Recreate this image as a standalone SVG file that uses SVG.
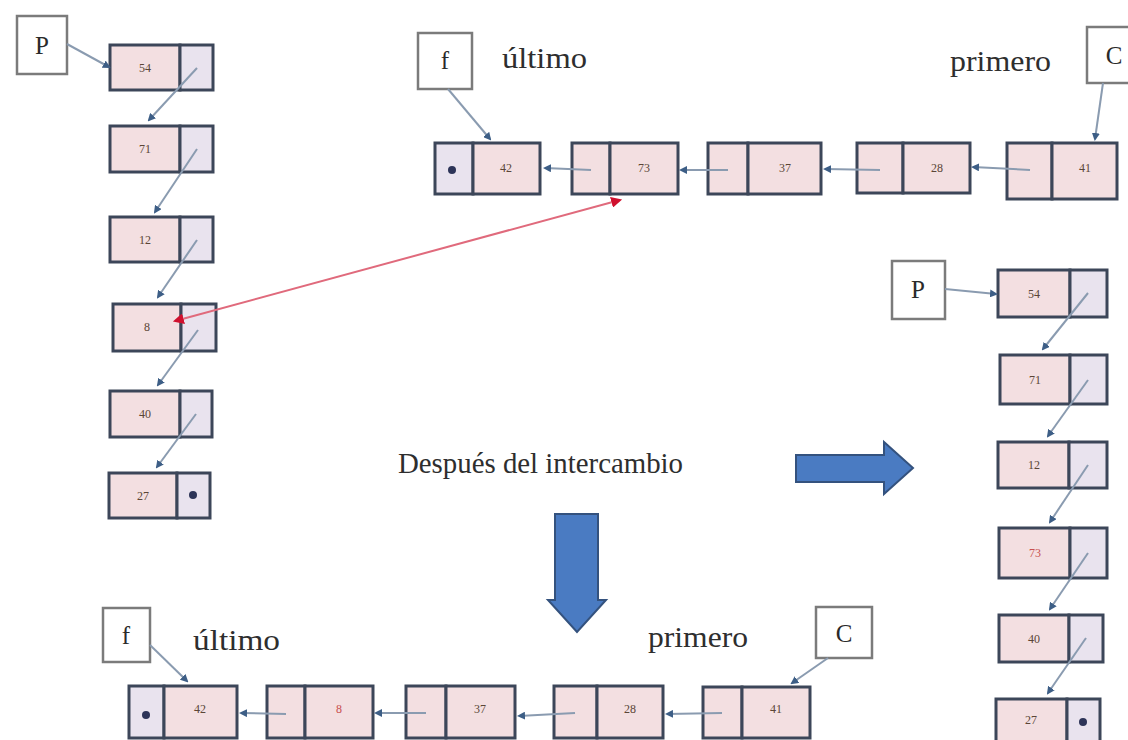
<svg xmlns="http://www.w3.org/2000/svg" width="1128" height="740" viewBox="0 0 1128 740">
<style>
.box{fill:#fff;stroke:#7b7b7b;stroke-width:2.5}
.big{font-family:"Liberation Serif",serif;font-size:25px;fill:#2a2a2a}
.word{font-family:"Liberation Serif",serif;font-size:30px;fill:#2e2e2e}
.cell{fill:#f3dfe1;stroke:#3c4659;stroke-width:3}
.ptr{fill:#e9e3ee;stroke:#3c4659;stroke-width:3}
.num{font-family:"Liberation Serif",serif;font-size:12px;fill:#5a4636;text-anchor:middle}
.red{fill:#c8504f}
.nil{fill:#2d3458}
.con{stroke:#8a9bb0;stroke-width:2;fill:none;marker-end:url(#m)}
.rcon{stroke:#e06a7c;stroke-width:2;fill:none;marker-end:url(#mr);marker-start:url(#mr2)}
.blk{fill:#4a7bc2;stroke:#34527e;stroke-width:2}
</style>
<defs>
<marker id="m" viewBox="0 0 8 8" refX="6" refY="4" markerWidth="8" markerHeight="8" markerUnits="userSpaceOnUse" orient="auto">
<path d="M0,0 L8,4 L0,8 Z" fill="#3d5e86"/>
</marker>
<marker id="mr" viewBox="0 0 10 10" refX="8" refY="5" markerWidth="11" markerHeight="11" markerUnits="userSpaceOnUse" orient="auto">
<path d="M0,0 L10,5 L0,10 Z" fill="#d0102e"/>
</marker>
<marker id="mr2" viewBox="0 0 10 10" refX="2" refY="5" markerWidth="11" markerHeight="11" markerUnits="userSpaceOnUse" orient="auto">
<path d="M10,0 L0,5 L10,10 Z" fill="#d0102e"/>
</marker>
</defs>
<rect width="1128" height="740" fill="#fff"/>

<!-- Left column (before) -->
<g id="pL"><rect class="box" x="17" y="16" width="50" height="58"/><text class="big" x="42" y="54" text-anchor="middle">P</text></g>
<g id="L54"><rect class="cell" x="110" y="45" width="70" height="45"/><rect class="ptr" x="180" y="45" width="33" height="45"/><text class="num" x="145" y="72">54</text></g>
<g id="L71"><rect class="cell" x="110" y="126" width="70" height="46"/><rect class="ptr" x="180" y="126" width="33" height="46"/><text class="num" x="145" y="153">71</text></g>
<g id="L12"><rect class="cell" x="110" y="217" width="70" height="45"/><rect class="ptr" x="180" y="217" width="33" height="45"/><text class="num" x="145" y="244">12</text></g>
<g id="L8"><rect class="cell" x="113" y="304" width="68" height="47"/><rect class="ptr" x="181" y="304" width="35" height="47"/><text class="num" x="147" y="331">8</text></g>
<g id="L40"><rect class="cell" x="110" y="391" width="70" height="46"/><rect class="ptr" x="180" y="391" width="32" height="46"/><text class="num" x="145" y="418">40</text></g>
<g id="L27"><rect class="cell" x="109" y="473" width="68" height="45"/><rect class="ptr" x="177" y="473" width="33" height="45"/><text class="num" x="143" y="500">27</text><circle class="nil" cx="193" cy="495" r="4"/></g>

<!-- Top list (before) -->
<g id="fT"><rect class="box" x="418" y="33" width="54" height="56"/><text class="big" x="445" y="69" text-anchor="middle">f</text></g>
<text class="word" x="502" y="68" textLength="85" lengthAdjust="spacingAndGlyphs">último</text>
<text class="word" x="950" y="71" textLength="101" lengthAdjust="spacingAndGlyphs">primero</text>
<g id="cT"><rect class="box" x="1087" y="27" width="54" height="56"/><text class="big" x="1114" y="64" text-anchor="middle">C</text></g>
<g id="T42"><rect class="ptr" x="435" y="143" width="38" height="51"/><rect class="cell" x="473" y="143" width="67" height="51"/><circle class="nil" cx="452" cy="170" r="4"/><text class="num" x="506" y="172">42</text></g>
<g id="T73"><rect class="cell" x="572" y="143" width="38" height="51"/><rect class="cell" x="610" y="143" width="68" height="51"/><text class="num" x="644" y="172">73</text></g>
<g id="T37"><rect class="cell" x="708" y="143" width="40" height="51"/><rect class="cell" x="748" y="143" width="73" height="51"/><text class="num" x="785" y="172">37</text></g>
<g id="T28"><rect class="cell" x="857" y="143" width="46" height="50"/><rect class="cell" x="903" y="143" width="67" height="50"/><text class="num" x="937" y="172">28</text></g>
<g id="T41"><rect class="cell" x="1007" y="143" width="45" height="56"/><rect class="cell" x="1052" y="143" width="65" height="56"/><text class="num" x="1085" y="172">41</text></g>

<!-- Right column (after) -->
<g id="pR"><rect class="box" x="892" y="261" width="53" height="58"/><text class="big" x="918" y="298" text-anchor="middle">P</text></g>
<g id="R54"><rect class="cell" x="998" y="270" width="72" height="47"/><rect class="ptr" x="1070" y="270" width="37" height="47"/><text class="num" x="1034" y="298">54</text></g>
<g id="R71"><rect class="cell" x="1000" y="355" width="70" height="49"/><rect class="ptr" x="1070" y="355" width="37" height="49"/><text class="num" x="1035" y="384">71</text></g>
<g id="R12"><rect class="cell" x="998" y="442" width="71" height="46"/><rect class="ptr" x="1069" y="442" width="38" height="46"/><text class="num" x="1034" y="469">12</text></g>
<g id="R73"><rect class="cell" x="999" y="528" width="71" height="50"/><rect class="ptr" x="1070" y="528" width="37" height="50"/><text class="num red" x="1035" y="557">73</text></g>
<g id="R40"><rect class="cell" x="999" y="615" width="70" height="47"/><rect class="ptr" x="1069" y="615" width="34" height="47"/><text class="num" x="1034" y="643">40</text></g>
<g id="R27"><rect class="cell" x="996" y="699" width="71" height="46"/><rect class="ptr" x="1067" y="699" width="33" height="46"/><text class="num" x="1031" y="724">27</text><circle class="nil" cx="1083" cy="722" r="4"/></g>

<!-- Middle -->
<text class="word" x="398" y="473" textLength="285" lengthAdjust="spacingAndGlyphs">Después del intercambio</text>
<g id="arrowRight"><path class="blk" d="M796,455 L884,455 L884,442 L913,468 L884,494 L884,482 L796,482 Z"/></g>
<g id="arrowDown"><path class="blk" d="M555,514 L598,514 L598,600 L606,600 L577,632 L548,600 L555,600 Z"/></g>

<!-- Bottom list (after) -->
<g id="fB"><rect class="box" x="103" y="608" width="47" height="54"/><text class="big" x="126" y="644" text-anchor="middle">f</text></g>
<text class="word" x="193" y="650" textLength="87" lengthAdjust="spacingAndGlyphs">último</text>
<text class="word" x="648" y="647" textLength="100" lengthAdjust="spacingAndGlyphs">primero</text>
<g id="cB"><rect class="box" x="816" y="607" width="56" height="51"/><text class="big" x="844" y="642" text-anchor="middle">C</text></g>
<g id="B42"><rect class="ptr" x="129" y="686" width="35" height="52"/><rect class="cell" x="164" y="686" width="73" height="52"/><circle class="nil" cx="146" cy="715" r="4"/><text class="num" x="200" y="713">42</text></g>
<g id="B8"><rect class="cell" x="267" y="686" width="38" height="52"/><rect class="cell" x="305" y="686" width="68" height="52"/><text class="num red" x="339" y="713">8</text></g>
<g id="B37"><rect class="cell" x="406" y="686" width="40" height="52"/><rect class="cell" x="446" y="686" width="69" height="52"/><text class="num" x="480" y="713">37</text></g>
<g id="B28"><rect class="cell" x="554" y="686" width="43" height="52"/><rect class="cell" x="597" y="686" width="66" height="52"/><text class="num" x="630" y="713">28</text></g>
<g id="B41"><rect class="cell" x="703" y="687" width="39" height="51"/><rect class="cell" x="742" y="687" width="68" height="51"/><text class="num" x="776" y="713">41</text></g>

<g id="connectors">
<!-- left column -->
<line class="con" x1="67" y1="44" x2="109" y2="67"/>
<line class="con" x1="197" y1="68" x2="149" y2="120"/>
<line class="con" x1="197" y1="149" x2="155" y2="212"/>
<line class="con" x1="197" y1="240" x2="158" y2="297"/>
<line class="con" x1="198" y1="330" x2="158" y2="385"/>
<line class="con" x1="196" y1="414" x2="157" y2="467"/>
<!-- top list -->
<line class="con" x1="448" y1="89" x2="490" y2="139"/>
<line class="con" x1="1103" y1="83" x2="1095" y2="139"/>
<line class="con" x1="1030" y1="170" x2="973" y2="167"/>
<line class="con" x1="880" y1="170" x2="825" y2="169"/>
<line class="con" x1="728" y1="170" x2="681" y2="170"/>
<line class="con" x1="591" y1="170" x2="545" y2="168"/>
<!-- right column -->
<line class="con" x1="945" y1="289" x2="996" y2="294"/>
<line class="con" x1="1088" y1="293" x2="1043" y2="349"/>
<line class="con" x1="1088" y1="380" x2="1048" y2="436"/>
<line class="con" x1="1088" y1="465" x2="1050" y2="522"/>
<line class="con" x1="1088" y1="553" x2="1050" y2="609"/>
<line class="con" x1="1086" y1="638" x2="1048" y2="693"/>
<!-- bottom list -->
<line class="con" x1="150" y1="645" x2="187" y2="681"/>
<line class="con" x1="828" y1="658" x2="792" y2="683"/>
<line class="con" x1="722" y1="713" x2="667" y2="714"/>
<line class="con" x1="575" y1="713" x2="519" y2="716"/>
<line class="con" x1="426" y1="713" x2="376" y2="713"/>
<line class="con" x1="286" y1="714" x2="241" y2="713"/>
<!-- red swap arrow -->
<line class="rcon" x1="620" y1="200" x2="175" y2="321"/>
</g>
</svg>
